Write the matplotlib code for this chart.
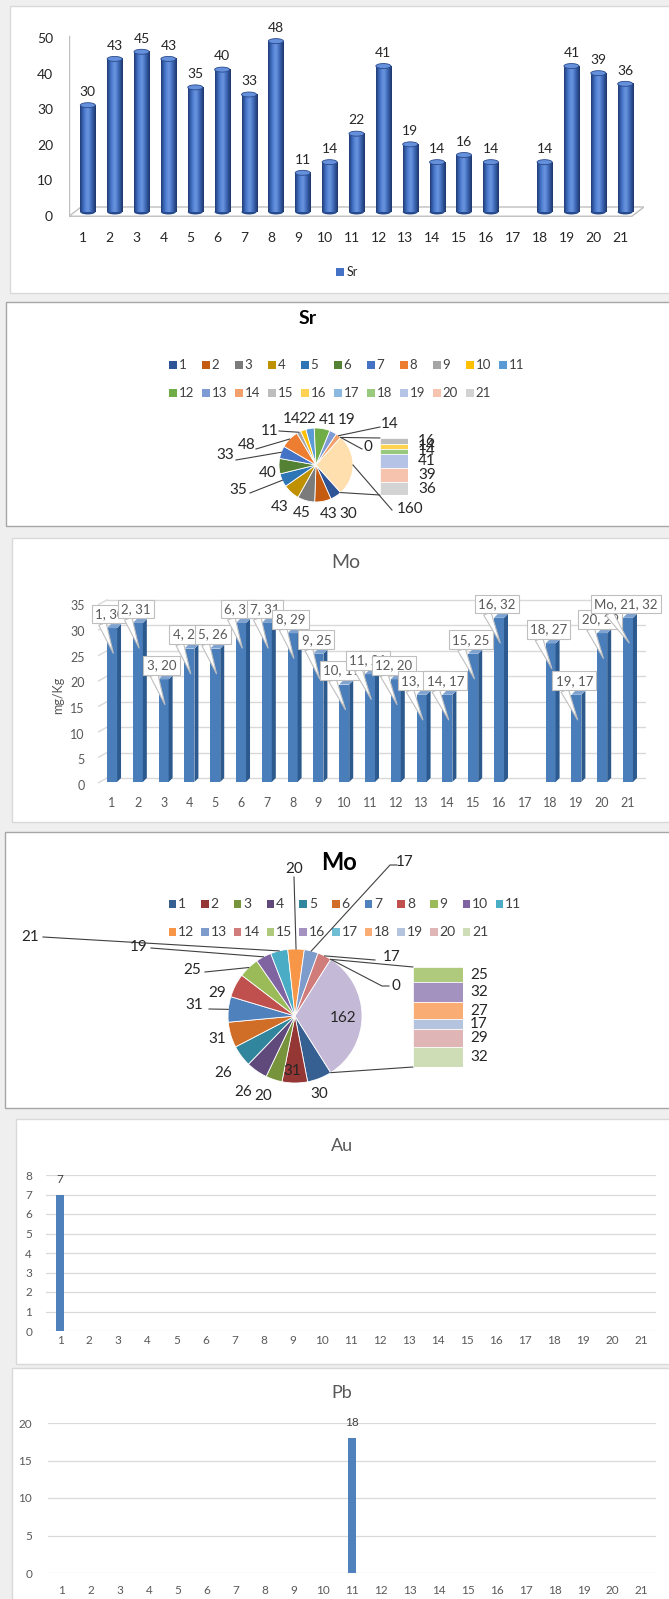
import numpy as np
import matplotlib.pyplot as plt
from matplotlib.patches import Rectangle, Ellipse, Polygon
from matplotlib.colors import LinearSegmentedColormap
from matplotlib.transforms import ScaledTranslation

plt.rcParams['font.family'] = ['Lato', 'DejaVu Sans']

W, H = 669, 1599

# data (None = no value)
samples = list(range(1, 22))
sr = [30, 43, 45, 43, 35, 40, 33, 48, 11, 14, 22, 41, 19, 14, 16, 14, None, 14, 41, 39, 36]
mo = [30, 31, 20, 26, 26, 31, 31, 29, 25, 19, 21, 20, 17, 17, 25, 32, None, 27, 17, 29, 32]
au = [7, None, None, None, None, None, None, None, None, None, None,
      None, None, None, None, None, None, None, None, None, None]
pb = [None, None, None, None, None, None, None, None, None, None, 18,
      None, None, None, None, None, None, None, None, None, None]

sr_colors = ['#2F5597', '#C55A11', '#7B7B7B', '#BF9000', '#2E75B6', '#548235',
             '#4472C4', '#ED7D31', '#A5A5A5', '#FFC000', '#5B9BD5', '#70AD47',
             '#7F9BD6', '#F3A06B', '#BDBDBD', '#FFD351', '#8AB8E1', '#99C97C',
             '#B4C3E6', '#F6C4AE', '#D3D3D3']
sr_other_color = '#FFDFAE'
mo_colors = ['#376092', '#953735', '#77933C', '#604A7B', '#31859C', '#D06D26',
             '#4F81BD', '#C0504D', '#9BBB59', '#8064A2', '#4BACC6', '#F79646',
             '#7E9CCB', '#D07C7A', '#AFC97D', '#A391BF', '#6FBED3', '#F9AC73',
             '#B5C4DE', '#DFB6B5', '#CEDDB5']
mo_other_color = '#C4B9D6'

n_main = 14  # points kept in the main pie, the rest go into the bar

fig = plt.figure(figsize=(W / 100, H / 100), dpi=100, facecolor='#EFEFEF')


def px_axes(left, top, width, height):
    return fig.add_axes([left / W, 1 - (top + height) / H, width / W, height / H])


def shift_labels(labels, dx, dy):
    for lab in labels:
        lab.set_transform(lab.get_transform() + ScaledTranslation(dx / 100, -dy / 100, fig.dpi_scale_trans))


# background canvas in pixel coordinates (y down)
bg = px_axes(0, 0, W, H)
bg.set_xlim(0, W)
bg.set_ylim(H, 0)
bg.axis('off')

panels = [(9.5, 6, 700, 293, '#D9D9D9'), (5.5, 302, 700, 526, '#A6A6A6'),
          (11.5, 538, 700, 822, '#D9D9D9'), (4.5, 832, 700, 1108, '#A6A6A6'),
          (16, 1119, 700, 1364, '#D9D9D9'), (11.5, 1368, 700, 1620, '#D9D9D9')]
for l, t, r, b, ec in panels:
    bg.add_patch(Rectangle((l, t), r - l, b - t, fc='white', ec=ec, lw=1, zorder=0))

# ---------------- Sr 3D cylinders ----------------
ax1 = px_axes(69, 16.2, 575, 202.9)
cyl = LinearSegmentedColormap.from_list('cyl', ['#203c74', '#3862b2', '#5583d4', '#6b95de',
                                                 '#4a76c6', '#2f5499', '#1e376a'])
grad = np.linspace(0, 1, 64).reshape(1, -1)
w1 = 0.56
floor = Polygon([(0.3, -1.2), (21.25, -1.2), (21.7, 1.4), (0.75, 1.4)], closed=True,
                fc='white', ec='#BFBFBF', lw=1, zorder=1)
ax1.add_patch(floor)
ax1.plot([0.3, 0.3], [-1.2, 49.5], color='#BFBFBF', lw=1, zorder=1)
for x, v in zip(samples, sr):
    if v is None:
        continue
    ax1.add_patch(Ellipse((x, 0), w1, 1.4, fc='#264a8c', ec='none', zorder=2))
    ax1.imshow(grad, extent=(x - w1 / 2, x + w1 / 2, 0, v), cmap=cyl, aspect='auto',
               interpolation='bilinear', zorder=3)
    ax1.add_patch(Ellipse((x, v), w1, 1.4, fc='#6590dc', ec='#2a4a8a', lw=0.6, zorder=4))
    ax1.text(x, v + 3.7, str(v), ha='center', va='center', fontsize=10, color='#262626')
ax1.set_xlim(0.3, 21.7)
ax1.set_ylim(-2, 55)
for s in ax1.spines.values():
    s.set_visible(False)
ax1.set_xticks(np.array(samples) - 0.18, [str(c) for c in samples])
ax1.set_yticks(range(0, 51, 10))
ax1.tick_params(length=0, labelsize=10, labelcolor='#262626')
ax1.tick_params(axis='x', pad=9.4)
ax1.tick_params(axis='y', pad=11.5)
shift_labels(ax1.get_yticklabels(), 0, 4)
ax1.patch.set_alpha(0)
bg.add_patch(Rectangle((336, 268), 8, 8, fc='#4472C4', ec='none'))
bg.text(347, 272, 'Sr', ha='left', va='center', fontsize=9, color='#262626')


# ---------------- pie of pie helpers ----------------
def draw_pie(vals, colors, other_color, cx, cy, r):
    main = [v or 0 for v in vals[:n_main]]
    other = sum(v or 0 for v in vals[n_main:])
    slices = main + [other]
    total = sum(slices)
    span = other / total * 360
    bg.pie(slices, colors=colors[:n_main] + [other_color], startangle=span / 2,
           counterclock=True, center=(cx, cy), radius=r, frame=True,
           wedgeprops=dict(edgecolor='white', linewidth=0.6))
    edges = 90 + span / 2 + np.cumsum([0] + slices) / total * 360
    mids = (edges[:-1] + edges[1:]) / 2
    return slices, mids, 90 - span / 2, 90 + span / 2


def rim(cx, cy, r, clock):
    a = np.radians(clock)
    return cx + r * np.sin(a), cy - r * np.cos(a)


def draw_bar_part(vals, colors, left, top, width, height, lbl_x, fs):
    rest = [v or 0 for v in vals[n_main:]]
    bottoms = np.cumsum([0] + rest[:-1])
    axb = px_axes(left, top, width, height)
    axb.bar(np.full(len(rest), 0.5), rest, bottom=bottoms, width=1,
            color=colors[n_main:], edgecolor='white', linewidth=0.5)
    axb.set_xlim(0, 1)
    axb.set_ylim(sum(rest), 0)
    axb.axis('off')
    for v, b in zip(rest, bottoms):
        if v:
            axb.text(lbl_x, b + v / 2, str(v), ha='center', va='center', fontsize=fs,
                     color='#262626', clip_on=False)


def legend_rows(colors, x0, step, y1, y2, fs, sq):
    for k, c in enumerate(colors):
        row_y = y1 if k < 11 else y2
        x = x0 + (k if k < 11 else k - 11) * step
        bg.add_patch(Rectangle((x, row_y - sq / 2), sq, sq, fc=c, ec='none'))
        bg.text(x + sq + 2, row_y, str(samples[k]), ha='left', va='center',
                fontsize=fs, color='#404040')


# ---------------- Sr pie ----------------
bg.text(308, 318, 'Sr', ha='center', va='center', fontsize=14, fontweight='bold', color='black')
legend_rows(sr_colors, 168.5, 33, 365, 393, 9.5, 8)
scx, scy, sr_r = 316, 465, 37
sr_sl, sr_mid, sr_o0, sr_o1 = draw_pie(sr, sr_colors, sr_other_color, scx, scy, sr_r)
sr_lbl_xy = [(348, 514), (329, 514), (302, 513), (280, 507), (238, 490), (268, 473),
             (225, 455), (247, 445), (270, 431), (292, 419), (307, 419), (328, 420),
             (347, 420), (390, 424)]
sr_leaders = {4: [(250, 493)], 6: [(236, 460)], 7: [(256, 449)], 8: [(279, 431)],
              13: [(380, 427)]}
for k, (lx, ly) in enumerate(sr_lbl_xy):
    bg.text(lx, ly, str(sr_sl[k]), ha='center', va='center', fontsize=11, color='#262626')
    if k in sr_leaders:
        pts = sr_leaders[k] + [rim(scx, scy, sr_r, sr_mid[k])]
        bg.plot(*zip(*pts), color='#404040', lw=0.8)
bg.text(410, 509, str(sr_sl[-1]), ha='center', va='center', fontsize=11, color='#262626')
bg.plot(*zip((392, 510), rim(scx, scy, sr_r, sr_mid[-1])), color='#404040', lw=0.8)
bg.text(368, 447, '0', ha='center', va='center', fontsize=11, color='#262626')
bg.plot(*zip((362, 449), rim(scx, scy, sr_r, sr_o0)), color='#404040', lw=0.8)
bg.plot(*zip(rim(scx, scy, sr_r, sr_o0), (380, 438)), color='#404040', lw=0.8)
bg.plot(*zip(rim(scx, scy, sr_r, sr_o1), (380, 495)), color='#404040', lw=0.8)
draw_bar_part(sr, sr_colors, 380, 438, 28, 57, 1.68, 11)

# ---------------- Mo 3D columns with callouts ----------------
bg.text(346, 563, 'Mo', ha='center', va='center', fontsize=14, color='#595959')
bg.text(58, 695, 'mg/Kg', ha='center', va='center', rotation=90, fontsize=9, color='#595959')
ax3 = px_axes(98, 592.2, 548, 194.9)
dx, dy, w3 = 0.155, 0.78, 0.39
for k in range(0, 36, 5):
    yw = k * 0.992 + 0.78
    ax3.plot([0.806, 21.7], [yw, yw], color='#D9D9D9', lw=1, zorder=1)
    ax3.plot([0.45, 0.806], [yw - 1, yw], color='#D9D9D9', lw=1, zorder=1)
for x, v in zip(samples, mo):
    if v is None:
        continue
    ax3.bar(x, v, width=w3, color='#4A7EBB', zorder=2)
    xr, xl = x + w3 / 2, x - w3 / 2
    ax3.add_patch(Polygon([(xr, 0), (xr, v), (xr + dx, v + dy), (xr + dx, dy)],
                          fc='#2C5A8E', ec='none', zorder=2))
    ax3.add_patch(Polygon([(xl, v), (xr, v), (xr + dx, v + dy), (xl + dx, v + dy)],
                          fc='#7FA3D1', ec='none', zorder=2))
for x, v in zip(samples, mo):
    if v is None:
        continue
    txt = f'{x}, {v}' if x != samples[-1] else f'Mo, {x}, {v}'
    ax3.annotate(txt, xy=(x + 0.05, v - 4.9), xytext=(x - 0.08, v + 2.73),
                 ha='center', va='center', fontsize=9.5, color='#595959',
                 bbox=dict(boxstyle='square,pad=0.25', fc='white', ec='#BFBFBF', lw=0.8),
                 arrowprops=dict(arrowstyle='wedge,tail_width=0.6', fc='white', ec='#BFBFBF',
                                 lw=0.8, relpos=(0.2, 0.0), shrinkA=0, shrinkB=0),
                 annotation_clip=False, zorder=5 + x)
ax3.set_xlim(0.457, 21.7)
ax3.set_ylim(-1, 37)
for s in ax3.spines.values():
    s.set_visible(False)
ax3.patch.set_alpha(0)
ax3.set_xticks(samples, [str(c) for c in samples])
ax3.set_yticks(range(0, 36, 5))
ax3.tick_params(length=0, labelsize=9, labelcolor='#595959')
ax3.tick_params(axis='x', pad=7)
ax3.tick_params(axis='y', pad=9.4)
shift_labels(ax3.get_yticklabels(), 0, 3)

# ---------------- Mo pie ----------------
bg.text(339, 862, 'Mo', ha='center', va='center', fontsize=17, fontweight='bold', color='black')
legend_rows(mo_colors, 168.5, 32.7, 904, 932, 10, 7.5)
mcx, mcy, mo_r = 295, 1016, 67
mo_sl, mo_mid, mo_o0, mo_o1 = draw_pie(mo, mo_colors, mo_other_color, mcx, mcy, mo_r)
mo_lbl_xy = [(319, 1094), (292, 1071), (263, 1096), (243, 1092), (223, 1073), (217, 1039),
             (194, 1005), (217, 993), (192, 970), (139, 947), (30, 937), (294, 869),
             (405, 862), (392, 957)]
mo_leaders = {6: [(209, 1009)], 8: [(205, 972)], 9: [(151, 948)], 10: [(43, 937)],
              11: [(294, 877)], 12: [(397, 865), (390, 865)], 13: [(375, 960)]}
for k, (lx, ly) in enumerate(mo_lbl_xy):
    bg.text(lx, ly, str(mo_sl[k]), ha='center', va='center', fontsize=11, color='#262626')
    if k in mo_leaders:
        pts = mo_leaders[k] + [rim(mcx, mcy, mo_r, mo_mid[k])]
        bg.plot(*zip(*pts), color='#404040', lw=0.8)
bg.text(343, 1018, str(mo_sl[-1]), ha='center', va='center', fontsize=11, color='#262626')
bg.text(396, 986, '0', ha='center', va='center', fontsize=11, color='#262626')
bg.plot(*zip((389, 986), (382, 986), rim(mcx, mcy, mo_r, mo_o0)), color='#404040', lw=0.8)
bg.plot(*zip(rim(mcx, mcy, mo_r, mo_o0), (413, 967)), color='#404040', lw=0.8)
bg.plot(*zip(rim(mcx, mcy, mo_r, mo_o1), (413, 1067)), color='#404040', lw=0.8)
draw_bar_part(mo, mo_colors, 413, 967, 50, 100, 1.32, 11)


# ---------------- flat columns: Au and Pb ----------------
def flat_columns(vals, title, title_y, box, ymax, ystep, bw, lbl_off, xpad, ypad):
    ax = px_axes(*box)
    for x, v in zip(samples, vals):
        if v is None:
            continue
        ax.bar(x, v, width=bw, color='#4F81BD', zorder=2)
        ax.text(x, v + lbl_off, str(v), ha='center', va='center', fontsize=8.5, color='#404040')
    ax.set_xlim(0.5, 21.5)
    ax.set_ylim(0, ymax)
    ax.set_yticks(np.arange(0, ymax + 0.1, ystep))
    ax.set_xticks(samples, [str(c) for c in samples])
    ax.grid(axis='y', color='#D9D9D9', lw=0.9)
    ax.set_axisbelow(True)
    for s in ax.spines.values():
        s.set_visible(False)
    ax.tick_params(length=0, labelsize=8.5, labelcolor='#595959')
    ax.tick_params(axis='x', pad=xpad)
    ax.tick_params(axis='y', pad=ypad)
    ax.patch.set_alpha(0)
    bg.text(342, title_y, title, ha='center', va='center', fontsize=13, color='#595959')


flat_columns(au, 'Au', 1146, (45.5, 1175, 610.5, 156), 8, 1, 0.29, 0.75, 3, 9.7)
flat_columns(pb, 'Pb', 1393, (47.5, 1423, 608.5, 150), 20, 5, 0.28, 2.1, 8.5, 11)

bg.set_xlim(0, W)
bg.set_ylim(H, 0)
bg.set_aspect('auto')
bg.set_position([0, 0, 1, 1])

fig.savefig('out.png', dpi=100, facecolor=fig.get_facecolor())
